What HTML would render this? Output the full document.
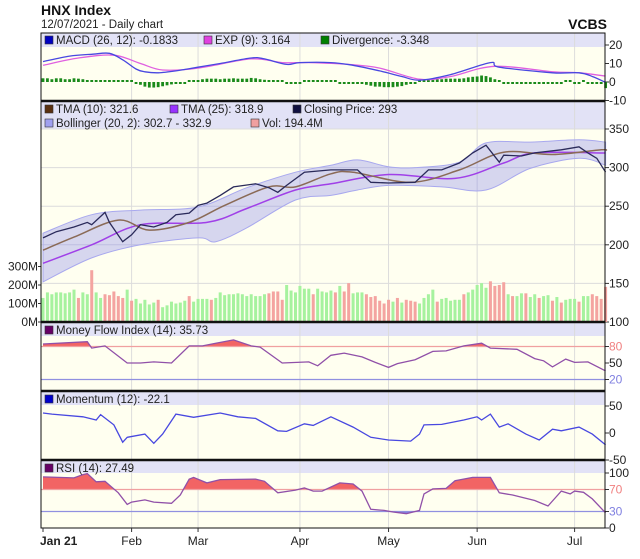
<!DOCTYPE html>
<html><head><meta charset="utf-8"><style>
html,body{margin:0;padding:0;background:#fff;}
svg{display:block;font-family:"Liberation Sans",sans-serif;}
</style></head><body>
<svg id="c" width="640" height="559" viewBox="0 0 640 559"></svg>
<script>
// ---------- data ----------
const monthLabels=["Jan 21","Feb","Mar","Apr","May","Jun","Jul"];
const monthIdx=[0,20,35,58,78,98,120];
const closeIdx=[0,3,7,10,11,14,15,18,20,22,25,28,30,33,35,37,40,43,48,51,53,55,59,65,71,74,78,84,87,90,94,97,100,103,104,108,111,117,121,123,125,127];
const closeVal=[209,217,223,229,226,242,229,204,213,226,223,229,239,241,251,254,264,275,279,274,268,277,294,297,297,281,280,281,297,297,306,319,329,307,316,315,319,323,327,319,312,294];
const tma10Idx=[0,7,17,24,33,41,51,57,65,70,83,94,104,115,126,127];
const tma10Val=[193,210,232,219,229,251,275,275,292,294,281,297,320,317,323,321.6];
const tma25Idx=[0,11,22,37,46,57,65,78,93,104,111,127];
const tma25Val=[176,200,226,229,247,271,279,291,286,306,319,318.9];
const bollUIdx=[0,11,22,35,46,57,65,71,78,84,94,100,110,121,127];
const bollUVal=[215,239,245,249,274,294,303,310,301,300,307,332,333,336,333];
const bollLIdx=[0,11,22,35,39,46,57,65,71,78,90,100,110,121,127];
const bollLVal=[152,183,200,209,204,222,258,264,271,277,275,271,299,312,303];
const vol=[130,160,150,160,160,155,160,175,130,160,150,280,160,130,150,145,
165,140,130,175,115,125,100,120,95,105,120,80,90,110,100,105,
115,140,110,125,125,125,120,130,160,145,150,150,155,150,140,150,
140,140,150,155,165,165,120,200,170,160,195,180,180,150,180,165,
160,170,160,195,165,210,155,160,160,150,135,140,115,100,120,110,
130,105,120,115,110,100,130,150,175,110,125,130,115,120,120,150,
160,175,200,210,185,220,195,200,215,150,140,140,155,155,135,150,
130,140,145,115,135,105,120,125,125,110,140,140,150,140,125,190];
const volUp=[1,1,1,1,1,1,1,1,0,1,1,0,1,1,0,0,
0,0,0,1,0,1,1,1,1,1,0,1,1,1,1,1,
1,0,1,1,1,1,0,1,1,1,1,1,1,1,1,1,
1,1,1,0,0,0,0,1,1,1,1,1,1,0,1,1,
1,1,0,1,0,0,1,1,1,0,0,0,0,0,0,1,
0,1,0,0,0,1,1,1,1,0,1,1,1,1,1,0,
1,1,1,1,1,0,0,0,0,1,0,1,1,0,1,1,
0,1,1,0,1,0,1,1,1,0,1,1,0,0,0,0];
const macdIdx=[0,6,11,15,18,21,23,26,30,35,40,47,50,55,58,65,70,76,81,85,92,101,103,115,121,124,127];
const macdVal=[11,14,15,15.5,12,7,5.5,5,6,8,10,13,12.5,9.5,10.5,10.5,9,6,3,1,4,10.5,8,5,5,3,-0.2];
const expIdx=[0,8,16,22,27,35,47,54,60,69,76,85,92,102,115,121,127];
const expVal=[9,13,14.5,10,6.5,7.5,12.5,10.5,10.5,9.5,7.5,1.5,3,8.5,5.5,5,3.2];
const divVal=[2,2,1.5,2,2,1.5,1.5,2,1.8,1.5,1,1,1,1,1,0.6,
0.6,0.6,0.5,0,0,-0.6,-1.5,-2.5,-3,-3,-2.8,-2.3,-1.8,-1.3,-0.8,-0.5,
-0.5,0,0.5,1,1.5,1.8,1.8,1.8,1.5,1.8,1.8,2,1.8,1.8,1.8,2.2,
2,1.5,1.2,1,0.5,0.5,0,-0.5,-0.5,-1,-0.5,0,0.4,0.4,0.4,0.4,
0.4,0,0,-0.5,-0.5,-0.5,-0.5,-0.5,-1,-1.5,-2,-2.5,-2.5,-2.8,-2.8,-2.8,
-2.5,-2.2,-1.5,-1,-0.5,0,1,1.5,1.5,1.5,1.5,1.8,1.8,1.8,1.8,2,
2.5,2.8,3,3.5,3.2,2.5,1.5,0.5,-0.3,-0.3,-0.3,-0.3,-0.5,-0.3,-0.3,-0.5,
-0.3,-0.3,-0.3,-0.3,-0.3,-0.3,0,0,-0.3,-0.3,0,-0.3,-0.5,-0.5,-1,-3.3];
const mfiIdx=[0,10,11,14,19,22,25,29,33,36,39,43,47,49,54,60,62,65,68,72,75,78,80,84,88,91,95,99,101,107,111,113,115,118,120,123,127];
const mfiVal=[84.5,88.7,77,81,50,50,52,50,81,81,86,92,81,79,50,52,45,64,68,61,51,42,49,56,71,72,81,86,77,75,58,54,43,57,51,52,35.7];
const momIdx=[0,2,9,12,13,16,18,19,23,25,27,30,34,40,44,48,53,55,59,61,65,70,74,78,83,85,86,90,95,98,99,101,103,105,109,112,115,117,121,124,127];
const momVal=[37,35,30,24,34,15,-17,-8,-2,-19,-2,35,29,37,30,27,4,3,17,14,30,11,-8,-13,-15,-2,15,16,24,30,24,35,11,17,-2,-13,7,4,11,-2,-22];
const rsiIdx=[0,7,9,10,12,14,17,19,20,23,25,29,31,33,34,37,40,48,50,53,57,59,61,63,67,70,72,74,77,79,82,85,86,88,91,93,97,101,103,106,111,114,117,119,120,122,124,127];
const rsiVal=[93,91,97,99,84,85,64,43,47,51,47,45,60,89,92,82,88,89,85,64,69,73,67,67,82,80,67,34,32,29,26,32,62,71,72,86,92,92,64,60,50,40,67,62,67,65,53,27.5];
const priceTicks=[350,300,250,200,150,100];
const volTicks=[300,200,100,0];
const macdTicks=[20,10,0,-10];

// ---------- geometry ----------
const NS="http://www.w3.org/2000/svg";
const svg=document.getElementById('c');
const L=41,R=605;
function X(i){return 43+i*4.43;}
function yPrice(v){return 129+(350-v)*0.772;}
function yVol(m){return 322-m*0.185;}
function yMacd(v){return 82-v*1.85;}
function yMfi(v){return 363-(v-50)*0.55;}
function yMom(v){return 433-v*0.54;}
function yRsi(v){return 528-v*0.55;}
function el(tag,attrs,parent){const e=document.createElementNS(NS,tag);for(const k in attrs)e.setAttribute(k,attrs[k]);(parent||svg).appendChild(e);return e;}
function txt(s,x,y,attrs){const t=el('text',Object.assign({x:x,y:y,'font-size':12,fill:'#222'},attrs||{}));t.textContent=s;return t;}
function pts(idx,val,fy){return idx.map((d,k)=>X(d).toFixed(1)+','+fy(val[k]).toFixed(1)).join(' ');}
function smooth(idx,val,fy){
  const P=idx.map((d,k)=>[X(d),fy(val[k])]);
  let s='M'+P[0][0].toFixed(1)+','+P[0][1].toFixed(1);
  for(let i=0;i<P.length-1;i++){
    const p0=P[Math.max(0,i-1)],p1=P[i],p2=P[i+1],p3=P[Math.min(P.length-1,i+2)];
    const c1=[p1[0]+(p2[0]-p0[0])/6,p1[1]+(p2[1]-p0[1])/6];
    const c2=[p2[0]-(p3[0]-p1[0])/6,p2[1]-(p3[1]-p1[1])/6];
    s+=' C'+c1[0].toFixed(1)+','+c1[1].toFixed(1)+' '+c2[0].toFixed(1)+','+c2[1].toFixed(1)+' '+p2[0].toFixed(1)+','+p2[1].toFixed(1);
  }
  return s;
}

// title
let t;
t=txt("HNX Index",41,15,{'font-size':14,'font-weight':'bold',fill:'#111'});

t=txt("12/07/2021 - Daily chart",41,28,{'font-size':11.5});

t=txt("VCBS",607,29,{'font-size':14,'font-weight':'bold','text-anchor':'end',fill:'#111'});


const panels=[[33,47,101,'macd-panel'],[101,129,322,'price-panel'],[322,336,391,'mfi-panel'],[391,405,460,'momentum-panel'],[460,473,528,'rsi-panel']];
panels.forEach(p=>{
  const g=el('rect',{x:L,y:p[0],width:R-L,height:p[2]-p[0],fill:'#fffff0'});
  
  const h=el('rect',{x:L,y:p[0],width:R-L,height:p[1]-p[0],fill:'#e2e2f6'});
  
  monthIdx.forEach((d,k)=>{if(k>0){const gl=el('line',{x1:X(d),x2:X(d),y1:p[0],y2:p[2],stroke:'#dcdcdc','stroke-width':1});
    }});
});
priceTicks.forEach(v=>{const y=yPrice(v);
  const gl=el('line',{x1:L,x2:R,y1:y,y2:y,stroke:'#dcdcdc'});
  const tk=el('line',{x1:R,x2:R+4,y1:y,y2:y,stroke:'#333'});
  const lb=txt(String(v),609,y+4);
});
volTicks.forEach(v=>{const y=yVol(v);
  const tk=el('line',{x1:L-3,x2:L,y1:y,y2:y,stroke:'#333'});
  const lb=txt(v+'M',38,y+4,{'text-anchor':'end'});
});
macdTicks.forEach(v=>{const y=yMacd(v);
  const tk=el('line',{x1:R,x2:R+4,y1:y,y2:y,stroke:'#333'});
  const lb=txt(String(v),609,y+4);
});

// Bollinger band
const upperPath=smooth(bollUIdx,bollUVal,yPrice);
const lowerRevIdx=bollLIdx.slice().reverse(), lowerRevVal=bollLVal.slice().reverse();
const lowerPath=smooth(lowerRevIdx,lowerRevVal,yPrice).replace(/^M/,' L');
let e=el('path',{d:upperPath+lowerPath+' Z',fill:'rgba(130,130,235,0.33)',stroke:'#a8a8ee','stroke-width':1});

vol.forEach((m,i)=>{const b=el('rect',{x:X(i)-1.5,y:yVol(m),width:3,height:322-yVol(m),fill:volUp[i]?'#a6f29e':'#f4a4a0'});
  });
e=el('path',{d:smooth(tma25Idx,tma25Val,yPrice),fill:'none',stroke:'#a040e8','stroke-width':1.5});

e=el('path',{d:smooth(tma10Idx,tma10Val,yPrice),fill:'none',stroke:'#8a6a56','stroke-width':1.5});

e=el('polyline',{points:pts(closeIdx,closeVal,yPrice),fill:'none',stroke:'#2a2a5a','stroke-width':1.3});


// MACD
divVal.forEach((v,i)=>{const y0=yMacd(0),y1=yMacd(v);
  const h=Math.max(2,Math.abs(y1-y0));
  const b=el('rect',{x:X(i)-1.4,y:v>=0?y0-h:y0,width:2.8,height:h,fill:'#1a8a1a'});
  });
e=el('path',{d:smooth(expIdx,expVal,yMacd),fill:'none',stroke:'#e060e0','stroke-width':1.3});

e=el('path',{d:smooth(macdIdx,macdVal,yMacd),fill:'none',stroke:'#4848e0','stroke-width':1.3});


function fillAbove(idx,val,fy,thr,color,name,below){
  const yT=fy(thr);
  const cp='cp'+name;
  const clip=el('clipPath',{id:cp});
  el('rect',{x:L,y:below?yT:0,width:R-L,height:below?200:yT},clip);
  const poly=el('polygon',{points:X(idx[0])+','+yT+' '+pts(idx,val,fy)+' '+X(idx[idx.length-1])+','+yT,fill:color,'clip-path':'url(#'+cp+')'});
  
}
function refLine(y,color,name){const l=el('line',{x1:L,x2:R,y1:y,y2:y,stroke:color,'stroke-width':1.2});}
function rLabel(s,y,color,name){const l=txt(s,609,y+4,{fill:color});
  const tk=el('line',{x1:R,x2:R+4,y1:y,y2:y,stroke:'#333'});}

// MFI
fillAbove(mfiIdx,mfiVal,yMfi,80,'#f26464','mfi-overbought-fill',false);
refLine(yMfi(80),'#f0a0a0','mfi-80-line');refLine(yMfi(20),'#9090e0','mfi-20-line');
e=el('polyline',{points:pts(mfiIdx,mfiVal,yMfi),fill:'none',stroke:'#9050a8','stroke-width':1.3});

rLabel('80',yMfi(80),'#f08080','mfi-80-label');rLabel('50',yMfi(50),'#222','mfi-50-label');rLabel('20',yMfi(20),'#8080e0','mfi-20-label');

// Momentum
e=el('polyline',{points:pts(momIdx,momVal,yMom),fill:'none',stroke:'#4848e0','stroke-width':1.3});

rLabel('50',yMom(50),'#222','momentum-50-label');rLabel('0',yMom(0),'#222','momentum-0-label');rLabel('-50',yMom(-50),'#222','momentum-neg50-label');

// RSI
fillAbove(rsiIdx,rsiVal,yRsi,70,'#f26464','rsi-overbought-fill',false);
fillAbove(rsiIdx,rsiVal,yRsi,30,'#8080e0','rsi-oversold-fill',true);
refLine(yRsi(70),'#f0a0a0','rsi-70-line');refLine(yRsi(30),'#9090e0','rsi-30-line');
e=el('polyline',{points:pts(rsiIdx,rsiVal,yRsi),fill:'none',stroke:'#9050a8','stroke-width':1.3});

rLabel('100',yRsi(100),'#222','rsi-100-label');rLabel('70',yRsi(70),'#f08080','rsi-70-label');rLabel('30',yRsi(30),'#8080e0','rsi-30-label');rLabel('0',yRsi(0),'#222','rsi-0-label');

panels.forEach(p=>{const b=el('rect',{x:L,y:p[0],width:R-L,height:p[2]-p[0],fill:'none',stroke:'#111','stroke-width':1});
  });
[101,322,391,460].forEach(y=>{const b=el('line',{x1:L,x2:R,y1:y,y2:y,stroke:'#111','stroke-width':2.4});
  });

function legend(x,y,color,label,name){
  const s=el('rect',{x:x,y:y-8,width:8,height:8,fill:color,stroke:'#333','stroke-width':0.6});
  
  const l=txt(label,x+11,y,{'font-size':11.5});
  
}
legend(45,44,'#0000c0','MACD (26, 12): -0.1833','legend-macd');
legend(204,44,'#e040e0','EXP (9): 3.164','legend-exp');
legend(321,44,'#008000','Divergence: -3.348','legend-divergence');
legend(45,113,'#5a3010','TMA (10): 321.6','legend-tma10');
legend(170,113,'#9933ff','TMA (25): 318.9','legend-tma25');
legend(293,113,'#101040','Closing Price: 293','legend-closing-price');
legend(45,127,'#a0a0f0','Bollinger (20, 2): 302.7 - 332.9','legend-bollinger');
legend(251,127,'#f0a0a0','Vol: 194.4M','legend-volume');
legend(45,334,'#660066','Money Flow Index (14): 35.73','legend-mfi');
legend(45,403,'#0000cc','Momentum (12): -22.1','legend-momentum');
legend(45,472,'#660066','RSI (14): 27.49','legend-rsi');

monthIdx.forEach((d,k)=>{
  const tk=el('line',{x1:X(d),x2:X(d),y1:528,y2:532,stroke:'#333'});
  const lb=txt(monthLabels[k],k===0?X(d)-3:X(d),545,k===0?{'font-weight':'bold'}:{'text-anchor':'middle'});
  
});
</script>
</body></html>
